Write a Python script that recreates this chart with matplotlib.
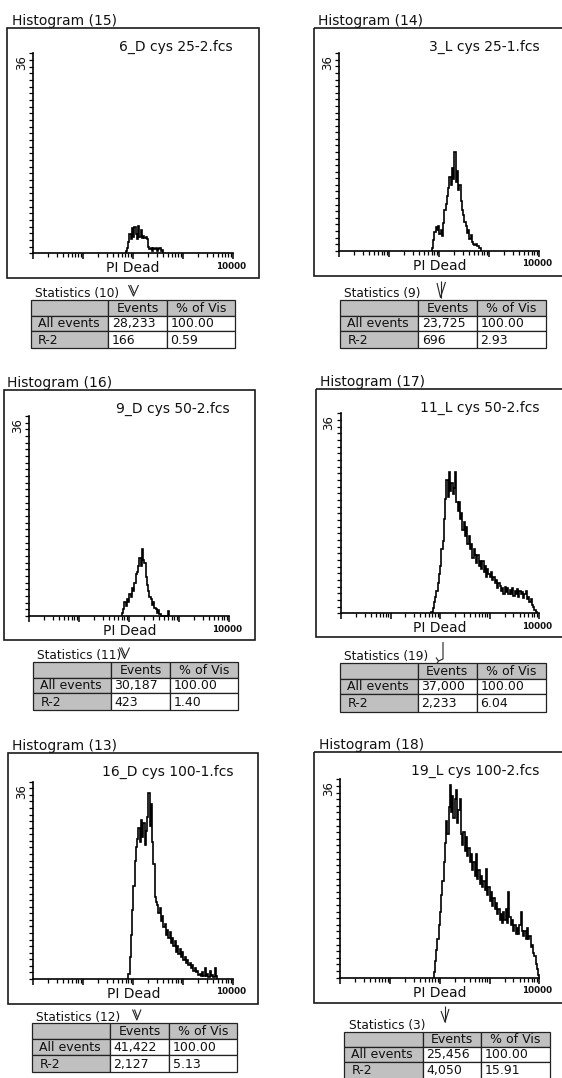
import numpy as np
import matplotlib
matplotlib.use("Agg")
import matplotlib.pyplot as plt
from matplotlib.patches import Rectangle
from matplotlib.ticker import FixedLocator, LogLocator, NullFormatter

# ---------------- data ----------------
panel_titles = ["Histogram (15)", "Histogram (14)", "Histogram (16)",
                "Histogram (17)", "Histogram (13)", "Histogram (18)"]
file_names = ["6_D cys 25-2.fcs", "3_L cys 25-1.fcs", "9_D cys 50-2.fcs",
              "11_L cys 50-2.fcs", "16_D cys 100-1.fcs", "19_L cys 100-2.fcs"]
stats_titles = ["Statistics (10)", "Statistics (9)", "Statistics (11)",
                "Statistics (19)", "Statistics (12)", "Statistics (3)"]
x_label = "PI Dead"
x_max_label = "10000"
y_max_label = "36"
table_headers = ["", "Events", "% of Vis"]
row_labels = ["All events", "R-2"]
all_events = ["28,233", "23,725", "30,187", "37,000", "41,422", "25,456"]
all_pct = ["100.00", "100.00", "100.00", "100.00", "100.00", "100.00"]
r2_events = ["166", "696", "423", "2,233", "2,127", "4,050"]
r2_pct = ["0.59", "2.93", "1.40", "6.04", "5.13", "15.91"]

# histogram counts: first-bin start (log10 channel) and counts per 0.025-decade bin
bin_width_log = 0.025
hist15_start = 1.85
hist15 = [0.5, 1, 2, 3.5, 2.5, 4.5, 3, 4.8, 3.5, 2.5, 4.9, 3, 4.2, 2.7, 3.2, 2.7,
          3.0, 2.5, 1.2, 0.8, 1.0, 0.5, 1.0, 0.8, 1.0, 0.5, 0.8, 1.0, 0.4, 0.6]
hist14_start = 1.85
hist14 = [0.5, 2, 3.5, 4.3, 3.8, 4.5, 3.0, 3.8, 2.6, 5.0, 7.5, 8.5, 10.0, 11.5,
          13.5, 12.0, 15.0, 13.0, 18.0, 12.5, 14.5, 11.0, 12.0, 9.0, 7.5, 6.5,
          5.2, 4.5, 3.2, 3.8, 2.2, 2.8, 1.5, 1.2, 1.0, 1.2, 0.8, 0.9, 0.5]
hist16_start = 1.85
hist16 = [0.5, 1.2, 2.5, 1.8, 3.0, 2.5, 4.0, 3.5, 5.0, 4.5, 6.0, 7.5, 8.0, 9.0,
          10.5, 9.0, 12.0, 10.0, 9.5, 7.0, 5.5, 4.5, 3.5, 3.0, 2.0, 2.5, 1.5,
          1.2, 0.6, 1.0, 0.3, 0, 0, 0, 0, 0, 0, 0.9]
hist17_start = 1.825
hist17 = [0.3, 1.0, 2.0, 3.0, 4.0, 5.5, 7.0, 8.5, 11.5, 13.0, 17.0, 20.5, 24.0,
          21.0, 25.5, 22.0, 23.5, 21.5, 22.5, 25.5, 20.0, 18.5, 20.0, 17.0, 18.0,
          15.0, 16.5, 14.0, 15.5, 12.5, 14.0, 11.5, 12.5, 10.0, 11.5, 10.5, 9.0,
          10.5, 8.5, 9.5, 8.0, 9.5, 7.5, 8.5, 6.5, 8.0, 7.0, 6.5, 7.5, 6.0, 6.5,
          5.5, 6.0, 4.5, 5.5, 5.0, 4.0, 4.5, 3.5, 4.8, 3.8, 4.5, 3.5, 4.2, 3.5,
          4.5, 3.2, 4.0, 3.5, 4.3, 3.0, 4.0, 3.5, 3.8, 2.8, 3.5, 4.0, 2.5, 3.0,
          2.0, 2.5, 1.5, 1.2, 0.6, 0.3]
hist13_start = 1.90
hist13 = [1.0, 4.0, 8.0, 12.5, 17.0, 21.5, 24.0, 25.5, 27.5, 25.0, 29.0, 26.0,
          28.5, 24.5, 27.0, 29.5, 34.0, 28.0, 32.0, 25.0, 21.0, 15.0, 14.0, 13.5,
          12.0, 13.0, 10.5, 11.5, 9.5, 10.0, 8.0, 9.0, 7.5, 8.5, 6.5, 7.5, 6.0,
          7.0, 5.0, 6.0, 4.5, 5.5, 4.0, 5.0, 3.5, 4.0, 3.0, 3.5, 2.5, 3.0, 2.0,
          2.5, 1.5, 2.0, 1.2, 1.5, 0.8, 1.0, 0.5, 1.2, 0.6, 2.0, 0.5, 1.0, 0.4,
          1.5, 0.5, 0.8, 0.3, 2.0, 0.5]
hist18_start = 1.875
hist18 = [1.0, 3.0, 5.0, 7.0, 9.5, 12.0, 15.0, 17.5, 21.0, 24.5, 28.5, 26.0,
          31.0, 35.0, 30.0, 33.0, 29.0, 32.5, 34.0, 28.0, 30.5, 32.5, 26.0, 24.0,
          26.5, 23.0, 25.5, 22.0, 23.5, 21.0, 22.5, 19.5, 21.0, 18.5, 22.5, 18.0,
          19.5, 17.0, 18.5, 16.5, 17.5, 16.0, 19.8, 15.0, 16.5, 14.0, 15.5, 13.0,
          14.5, 12.5, 13.5, 11.5, 12.5, 10.5, 11.5, 10.0, 12.0, 10.5, 12.5, 10.0,
          15.5, 11.0, 9.5, 10.5, 8.5, 9.5, 8.0, 9.0, 8.0, 9.5, 12.0, 8.5, 7.5,
          8.5, 7.0, 9.0, 7.0, 7.5, 5.5, 6.0, 4.5, 4.0, 2.5, 1.5, 0.5]

hist_counts = [hist15, hist14, hist16, hist17, hist13, hist18]
hist_starts = [hist15_start, hist14_start, hist16_start, hist17_start,
               hist13_start, hist18_start]

# ---------------- layout (pixel coordinates of the 562x1078 image) ----------------
W, H = 562, 1078
boxes = [(7.3, 28.3, 259, 278.3), (313.7, 28.3, 600, 276),
         (4, 390, 255, 640), (315.7, 389.3, 600, 637.3),
         (8.3, 753.3, 258.3, 1004), (314.3, 752.3, 600, 1002.7)]
axes_px = [(33.3, 233, 253.3, 53.3), (339.3, 539.3, 250.7, 53.3),
           (29.3, 229.3, 616, 416), (341, 539.3, 613.3, 413.3),
           (33.3, 233.3, 979, 781.7), (340.3, 539.3, 977.7, 779.3)]
title_pos = [(11.7, 25), (317.7, 25), (7.3, 386.5), (320.3, 386), (11.7, 750), (319.3, 749)]
stats_pos = [(35, 297.5), (344.3, 297.5), (37.3, 659), (344.3, 660), (36, 1021), (349.3, 1029)]
table_cols = [(30.7, 108.3, 166.7, 235), (340.3, 418.3, 477, 546),
              (33.3, 111, 170, 238.3), (340.3, 417.7, 477, 546),
              (32.3, 110, 169, 237.3), (344.3, 422.7, 481, 550.3)]
table_rows = [(300, 315.5, 331, 348), (300, 315.5, 331, 348),
              (661.7, 677.5, 693, 710), (662.7, 678.5, 694, 711.7),
              (1023.3, 1039, 1055, 1072.3), (1031.7, 1046.7, 1061.7, 1078.5)]
arrows = [
    [[(128.5, 285), (133.5, 296), (138.5, 285)], [(130.5, 285), (134.2, 293.5)]],
    [[(437, 283), (440.5, 297.5), (445.5, 282)], [(440.5, 281), (440.5, 297.5)]],
    [[(119.5, 647.5), (124.5, 658.5), (129.5, 647.5)], [(121.5, 647.5), (125.2, 656)]],
    [[(443, 642), (443, 659), (438.5, 661)], [(436, 657.5), (438.5, 661), (437, 663.5)]],
    [[(132.5, 1009.5), (136.8, 1020), (141, 1009.5)], [(134.5, 1009.5), (137.5, 1017.5)]],
    [[(441, 1011), (445, 1022), (449, 1009)], [(445, 1006), (445, 1022)]],
]

GRAY = "#c0c0c0"
INK = "#111111"
plt.rcParams["font.family"] = ["DejaVu Sans"]

fig = plt.figure(figsize=(W / 100, H / 100), dpi=100)
fig.patch.set_facecolor("white")

ov = fig.add_axes([0, 0, 1, 1])
ov.set_xlim(0, W)
ov.set_ylim(H, 0)
ov.axis("off")

for i in range(6):
    L, T, R, B = boxes[i]
    ov.add_patch(Rectangle((L, T), R - L, B - T, fill=False, ec="#1a1a1a", lw=1.2))
    xl, xr, yb, yt = axes_px[i]

    ax = fig.add_axes([xl / W, 1 - yb / H, (xr - xl) / W, (yb - yt) / H])
    ax.set_facecolor("none")
    ax.set_xscale("log")
    ax.set_xlim(1, 1e4)
    ax.set_ylim(0, 36)
    for s in ["top", "right"]:
        ax.spines[s].set_visible(False)
    for s in ["left", "bottom"]:
        ax.spines[s].set_linewidth(1.2)
    ax.xaxis.set_major_locator(FixedLocator([1, 10, 100, 1000, 10000]))
    ax.xaxis.set_minor_locator(LogLocator(base=10, subs=np.arange(2, 10), numticks=30))
    ax.xaxis.set_major_formatter(NullFormatter())
    ax.xaxis.set_minor_formatter(NullFormatter())
    ax.tick_params(axis="x", which="major", direction="out", length=4.0, width=1.1)
    ax.tick_params(axis="x", which="minor", direction="out", length=3.0, width=0.9)
    ax.yaxis.set_major_locator(FixedLocator(np.linspace(0, 36, 31)))
    ax.yaxis.set_major_formatter(NullFormatter())
    ax.tick_params(axis="y", direction="out", length=3.0, width=0.9)

    counts = np.array(hist_counts[i], dtype=float)
    edges = 10 ** (hist_starts[i] + bin_width_log * np.arange(len(counts) + 1))
    ax.stairs(counts, edges, baseline=0, color="black", lw=1.2, clip_on=False)

    ov.text(title_pos[i][0], title_pos[i][1], panel_titles[i], fontsize=10,
            ha="left", va="baseline", color=INK)
    ov.text(xr, T + 19, file_names[i], fontsize=10, ha="right", va="center", color=INK)
    ov.text(xl - 12, yt + 2, y_max_label, fontsize=8.5, rotation=90, ha="center",
            va="top", color=INK)
    ov.text((xl + xr) / 2, yb + 15, x_label, fontsize=10, ha="center", va="center",
            color=INK)
    ov.text(xr - 2, yb + 13, x_max_label, fontsize=6.3, fontweight="bold",
            ha="center", va="center", color=INK)
    ov.text(stats_pos[i][0], stats_pos[i][1], stats_titles[i], fontsize=8.7,
            ha="left", va="baseline", color=INK)

    for seg in arrows[i]:
        ov.plot([p[0] for p in seg], [p[1] for p in seg], color="#222222", lw=0.8,
                solid_capstyle="butt")

    cx = table_cols[i]
    ry = table_rows[i]
    cells = [table_headers,
             [row_labels[0], all_events[i], all_pct[i]],
             [row_labels[1], r2_events[i], r2_pct[i]]]
    for r in range(3):
        for c in range(3):
            fc = GRAY if (r == 0 or c == 0) else "white"
            ov.add_patch(Rectangle((cx[c], ry[r]), cx[c + 1] - cx[c], ry[r + 1] - ry[r],
                                   fc=fc, ec="#222222", lw=0.9))
            txt = cells[r][c]
            if not txt:
                continue
            ymid = (ry[r] + ry[r + 1]) / 2 + 0.5
            if r == 0:
                ov.text((cx[c] + cx[c + 1]) / 2, ymid, txt, fontsize=9, ha="center",
                        va="center", color=INK)
            elif c == 0:
                ov.text(cx[c] + 7, ymid, txt, fontsize=9, ha="left", va="center", color=INK)
            else:
                ov.text(cx[c] + 3.5, ymid, txt, fontsize=9, ha="left", va="center", color=INK)

fig.savefig("out.png", dpi=100, facecolor="white")
